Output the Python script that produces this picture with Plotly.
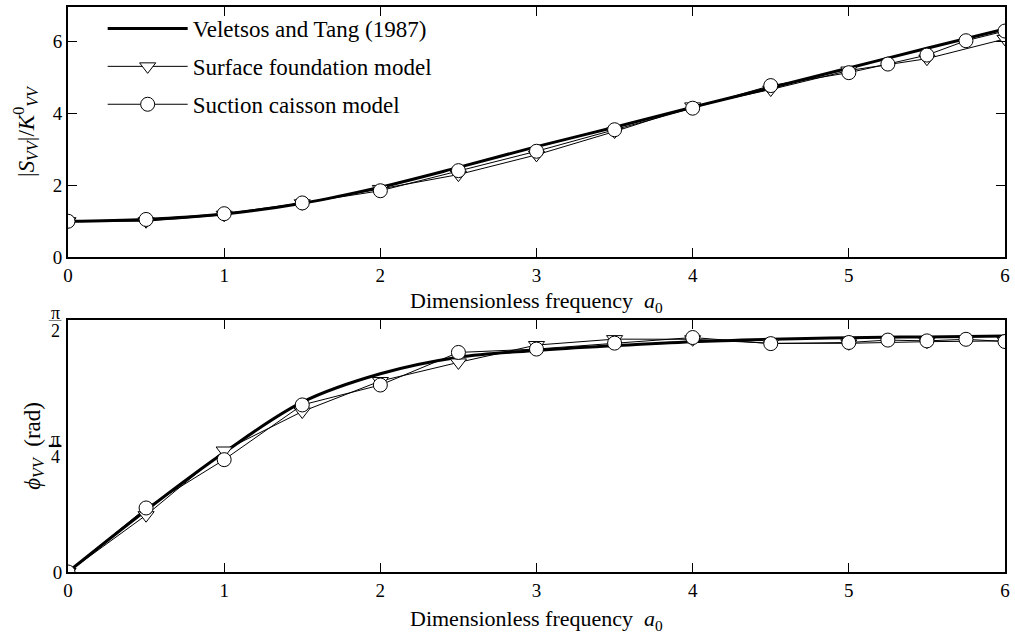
import math
import plotly.graph_objects as go

# Dimensionless frequency grids
a_ref = [0, 0.5, 1, 1.5, 2, 2.5, 3, 3.5, 4, 4.5, 5, 5.5, 6]
a_surf = [0, 0.5, 1, 1.5, 2, 2.5, 3, 3.5, 4, 4.5, 5, 5.5, 6]
a_cais = [0, 0.5, 1, 1.5, 2, 2.5, 3, 3.5, 4, 4.5, 5, 5.25, 5.5, 5.75, 6]

# Normalised amplitude |S_VV| / K0_VV
amp_ref = [1.0, 1.05, 1.2, 1.5, 1.95, 2.5, 3.08, 3.62, 4.18, 4.72, 5.27, 5.82, 6.36]
amp_surf = [1.0, 1.0, 1.18, 1.5, 1.9, 2.3, 2.85, 3.5, 4.2, 4.67, 5.2, 5.53, 6.08]
amp_cais = [1.0, 1.05, 1.21, 1.51, 1.85, 2.41, 2.95, 3.55, 4.15, 4.78, 5.14, 5.38, 5.63, 6.03, 6.3]

# Phase angle phi_VV (rad)
ph_ref = [0, 0.385, 0.745, 1.058, 1.235, 1.338, 1.38, 1.41, 1.435, 1.45, 1.46, 1.465, 1.47]
ph_surf = [0, 0.354, 0.757, 1.0, 1.19, 1.306, 1.414, 1.451, 1.45, 1.425, 1.425, 1.435, 1.44]
ph_cais = [0, 0.399, 0.70, 1.041, 1.165, 1.368, 1.389, 1.426, 1.461, 1.423, 1.43, 1.445, 1.44, 1.45, 1.436]

names = ["Veletsos and Tang (1987)", "Surface foundation model", "Suction caisson model"]

SERIF = "Liberation Serif, Times New Roman, serif"
BLACK = "#000000"

fig = go.Figure()

marker_surf = dict(symbol="triangle-down", size=14, color="white",
                   line=dict(color=BLACK, width=1))
marker_cais = dict(symbol="circle", size=14, color="white",
                   line=dict(color=BLACK, width=1))

for xa, ya, show in [("x", "y", True), ("x2", "y2", False)]:
    yr, ys, yc = (amp_ref, amp_surf, amp_cais) if ya == "y" else (ph_ref, ph_surf, ph_cais)
    fig.add_trace(go.Scatter(x=a_ref, y=yr, mode="lines", name=names[0],
                             line=dict(color=BLACK, width=3, shape="spline"),
                             xaxis=xa, yaxis=ya, showlegend=show, legendgroup="g0"))
    fig.add_trace(go.Scatter(x=a_surf, y=ys, mode="lines+markers", name=names[1],
                             line=dict(color=BLACK, width=1), marker=marker_surf,
                             xaxis=xa, yaxis=ya, showlegend=show, legendgroup="g1"))
    fig.add_trace(go.Scatter(x=a_cais, y=yc, mode="lines+markers", name=names[2],
                             line=dict(color=BLACK, width=1), marker=marker_cais,
                             xaxis=xa, yaxis=ya, showlegend=show, legendgroup="g2"))

tick_font = dict(family=SERIF, size=19, color=BLACK)
title_font = dict(family=SERIF, size=22, color=BLACK)
frac_font = dict(family=SERIF, size=18, color=BLACK)

axis_style = dict(ticks="inside", ticklen=9, tickwidth=1, tickcolor=BLACK,
                  showline=True, linecolor=BLACK, linewidth=2, mirror="ticks",
                  showgrid=False, zeroline=False, tickfont=tick_font)

x_title = "Dimensionless frequency  <i>a</i><sub>0</sub>"

fig.update_layout(
    width=1015, height=636,
    margin=dict(l=68, r=7, t=5, b=64),
    paper_bgcolor="white", plot_bgcolor="white",
    font=dict(family=SERIF, color=BLACK),
    showlegend=True,
    legend=dict(x=0.037, y=1.0, xanchor="left", yanchor="top",
                bgcolor="rgba(0,0,0,0)", font=dict(family=SERIF, size=23, color=BLACK),
                itemwidth=80, tracegroupgap=5),
    xaxis=dict(axis_style, range=[0, 6], tickvals=[0, 1, 2, 3, 4, 5, 6],
               domain=[0, 1], anchor="y"),
    yaxis=dict(axis_style, domain=[0.5573, 1], range=[0, 6.97], tickvals=[0, 2, 4, 6],
               title=dict(text="|<i>S</i><sub><i>VV</i></sub>|/<i>K</i><sup>0</sup><sub><i>VV</i></sub>",
                          font=dict(family=SERIF, size=23, color=BLACK), standoff=12)),
    xaxis2=dict(axis_style, range=[0, 6], tickvals=[0, 1, 2, 3, 4, 5, 6],
                domain=[0, 1], anchor="y2"),
    yaxis2=dict(axis_style, domain=[0, 0.4462], range=[0, math.pi / 2],
                tickvals=[0],
                title=dict(text="<i>ϕ</i><sub><i>VV</i></sub>  (rad)",
                           font=dict(family=SERIF, size=23, color=BLACK), standoff=6)),
    # Companion axis carrying the pi/4 and pi/2 tick marks of the phase panel
    yaxis3=dict(axis_style, overlaying="y2", anchor="x2", range=[0, math.pi / 2],
                tickvals=[math.pi / 4, math.pi / 2], showticklabels=False, showline=False),
)

# Frequency axis titles, set close under the tick labels of each panel
for ypos in [0.478, -0.0847]:
    fig.add_annotation(x=0.5, y=ypos, xref="paper", yref="paper", text=x_title,
                       showarrow=False, xanchor="center", yanchor="middle", font=title_font)

# Fraction tick labels pi/2 and pi/4 on the phase axis
for val, den, bw in [(math.pi / 2, "2", 1.2), (math.pi / 4, "4", 2.2)]:
    fig.add_annotation(x=-0.0135, y=val, xref="paper", yref="y2", text="π",
                       showarrow=False, xanchor="center", yanchor="middle",
                       yshift=7, font=frac_font)
    fig.add_annotation(x=-0.0135, y=val, xref="paper", yref="y2", text=den,
                       showarrow=False, xanchor="center", yanchor="middle",
                       yshift=-11, font=frac_font)
    fig.add_shape(type="line", xref="paper", yref="y2", x0=-0.0205, x1=-0.007,
                  y0=val, y1=val, line=dict(color=BLACK, width=bw))

fig.write_html("out.html")
